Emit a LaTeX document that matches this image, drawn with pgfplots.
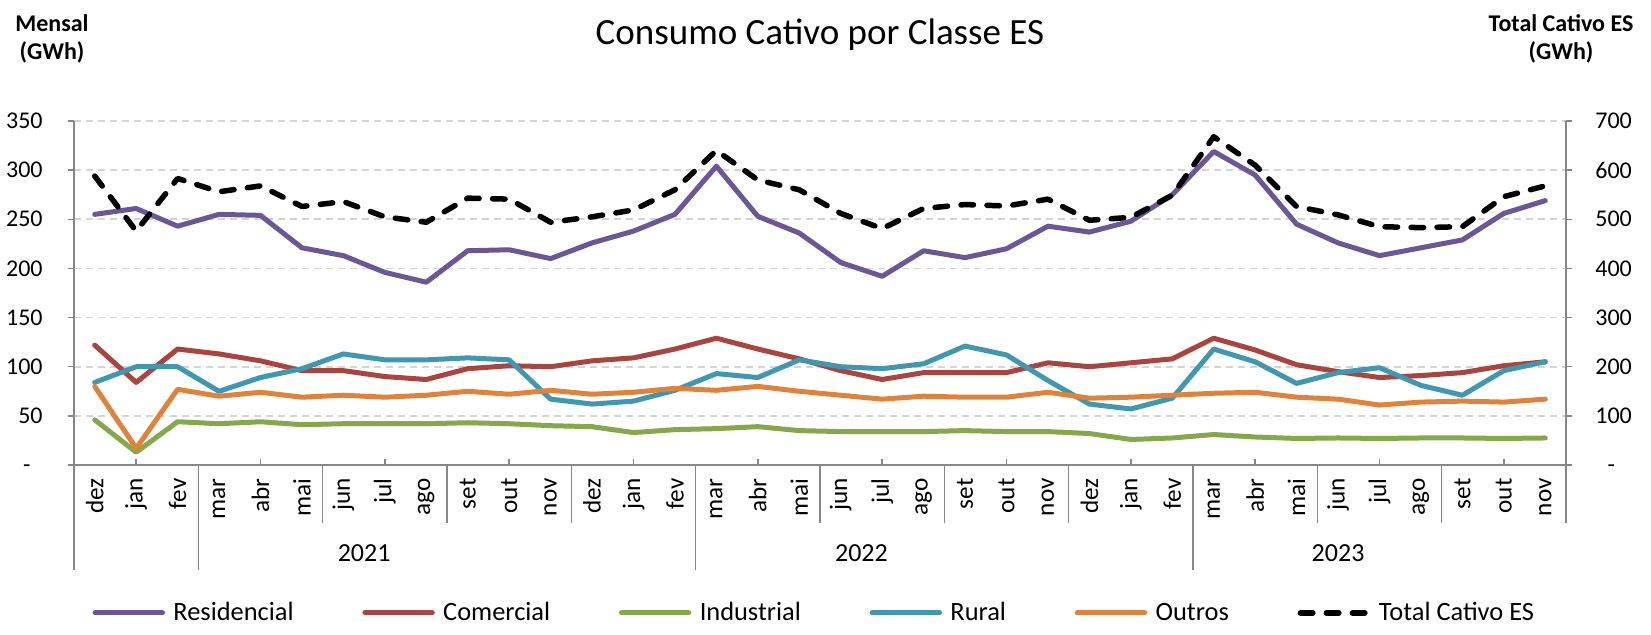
\documentclass[border=0pt]{standalone}
\usepackage{fontspec}
\setmainfont{Carlito}
\usepackage{pgfplots}
\pgfplotsset{compat=1.18}
\usepackage{pgfplotstable}

\definecolor{cRes}{HTML}{6B5696}
\definecolor{cCom}{HTML}{A9443F}
\definecolor{cInd}{HTML}{86A84A}
\definecolor{cRur}{HTML}{3F97B0}
\definecolor{cOut}{HTML}{E0823A}
\definecolor{axgray}{HTML}{868686}
\definecolor{gridgray}{HTML}{D4D4D4}

\pgfplotstableread{
x res com ind rur out tot
0 255 122 46 84 80 588
1 261 84 13 100 17 476
2 243 118 44 100 77 583
3 255 113 42 75 70 556
4 254 106 44 89 74 568
5 221 96 41 98 69 526
6 213 96 42 113 71 536
7 196 90 42 107 69 505
8 186 87 42 107 71 494
9 218 98 43 109 75 543
10 219 101 42 107 72 541
11 210 100 40 67 76 494
12 226 106 39 62 72 505
13 238 109 33 65 74 519
14 255 118 36 76 78 560
15 304 129 37 93 76 640
16 253 118 39 89 80 580
17 236 108 35 107 75 560
18 206 96 34 100 71 512
19 192 87 34 98 67 481
20 218 94 34 103 70 522
21 211 94 35 121 69 530
22 220 94 34 112 69 527
23 243 104 34 86 74 541
24 237 100 32 62 68 498
25 248 104 26 57 69 504
26 275 108 27.5 68 71 549
27 319 129 31 118 73 668
28 295 117 28.5 105 74 610
29 245 102 27 83 69 526
30 226 95 27.5 94 67 509
31 213 89 27 99 61 485
32 221 91 27.5 81 64 483
33 229 94 27.5 71 65 485
34 256 101 27 96 64 546
35 269 105 27.5 105 67 568
}\datatable

\tikzset{
  serie/.style={line width=2.5pt, line cap=round, line join=round},
  totstyle/.style={black, line width=2.75pt, line cap=round, line join=round, dash pattern=on 6.25pt off 6.75pt},
}

\begin{document}
\begin{tikzpicture}
\begin{axis}[
  at={(37pt,84.5pt)}, anchor=south west,
  scale only axis, width=746pt, height=172pt,
  xmin=-0.5, xmax=35.5, ymin=0, ymax=350,
  clip=false,
  axis x line*=bottom, axis y line*=left,
  axis line style={axgray, line width=0.75pt},
  every tick/.style={axgray, line width=0.75pt},
  major tick length=3pt, tick align=outside,
  xtick={0,...,35},
  xticklabels={dez,jan,fev,mar,abr,mai,jun,jul,ago,set,out,nov,dez,jan,fev,mar,abr,mai,jun,jul,ago,set,out,nov,dez,jan,fev,mar,abr,mai,jun,jul,ago,set,out,nov},
  xtick style={draw=none},
  xticklabel style={font=\fontsize{12.6}{15}\selectfont, inner sep=0pt, yshift=-3.5pt, rotate=90, anchor=east},
  ytick={0,50,...,350},
  yticklabels={-\phantom{0},50,100,150,200,250,300,350},
  yticklabel style={font=\fontsize{12}{14}\selectfont, inner sep=0pt, anchor=east, xshift=-12.5pt},
  ymajorgrids,
  major grid style={gridgray, line width=0.8pt, dash pattern=on 3.5pt off 2.5pt},
  legend columns=6,
  legend cell align=left,
  legend image code/.code={\draw[#1] (1.4pt,0pt) -- (35.1pt,0pt);},
  legend style={at={(0.0122,-0.4302)}, anchor=west, draw=none, fill=none, inner sep=0pt,
    font=\fontsize{13.2}{16}\selectfont,
    nodes={inner sep=0pt},
    /tikz/every odd column/.style={column sep=4.2pt},
    /tikz/every even column/.style={column sep=34.4pt}},
]
\addplot[serie, cRes] table[x=x,y=res]{\datatable};
\addplot[serie, cCom] table[x=x,y=com]{\datatable};
\addplot[serie, cInd] table[x=x,y=ind]{\datatable};
\addplot[serie, cRur] table[x=x,y=rur]{\datatable};
\addplot[serie, cOut] table[x=x,y=out]{\datatable};
\addlegendimage{totstyle}
\legend{Residencial,Comercial,Industrial,Rural,Outros,Total Cativo ES}
% small inward ticks
\pgfplotsinvokeforeach{1,4,7,10,13,16,19,22,25,28,31,34}{
  \draw[axgray, line width=0.75pt] (axis cs:#1,0) -- ++(0pt,3pt);
}
% group separators
\pgfplotsinvokeforeach{-0.5,2.5,14.5,26.5}{
  \draw[axgray, line width=0.75pt] (axis cs:#1,0) -- ++(0pt,-52.5pt);
}
\pgfplotsinvokeforeach{5.5,8.5,11.5,17.5,20.5,23.5,29.5,32.5,35.5}{
  \draw[axgray, line width=0.75pt] (axis cs:#1,0) -- ++(0pt,-29pt);
}
\node[font=\fontsize{13}{15}\selectfont] at ([yshift=-44pt]axis cs:6.5,0) {2021};
\node[font=\fontsize{13}{15}\selectfont] at ([yshift=-44pt]axis cs:18.5,0) {2022};
\node[font=\fontsize{13}{15}\selectfont] at ([yshift=-44pt]axis cs:30,0) {2023};
\end{axis}
\begin{axis}[
  at={(37pt,84.5pt)}, anchor=south west,
  scale only axis, width=746pt, height=172pt,
  xmin=-0.5, xmax=35.5, ymin=0, ymax=700,
  axis x line=none, axis y line*=right,
  axis line style={axgray, line width=0.75pt},
  every tick/.style={axgray, line width=0.75pt},
  major tick length=3pt, tick align=outside,
  ytick={0,100,...,700},
  yticklabels={\phantom{0}-,100,200,300,400,500,600,700},
  yticklabel style={font=\fontsize{12}{14}\selectfont, inner sep=0pt, anchor=west, xshift=11.5pt},
]
\addplot[totstyle] table[x=x,y=tot]{\datatable};
\end{axis}
\node[anchor=base, font=\fontsize{18.5}{22}\selectfont] at (410pt,294.5pt) {Consumo Cativo por Classe ES};
\node[anchor=base, font=\fontsize{12}{14}\selectfont\bfseries] at (26pt,301.5pt) {Mensal};
\node[anchor=base, font=\fontsize{12}{14}\selectfont\bfseries] at (26pt,287.5pt) {(GWh)};
\node[anchor=base, font=\fontsize{12}{14}\selectfont\bfseries] at (780.5pt,301.5pt) {Total Cativo ES};
\node[anchor=base, font=\fontsize{12}{14}\selectfont\bfseries] at (780.5pt,287.5pt) {(GWh)};
\pgfresetboundingbox
\useasboundingbox (0,0) rectangle (825.5pt,317pt);
\end{tikzpicture}
\end{document}
